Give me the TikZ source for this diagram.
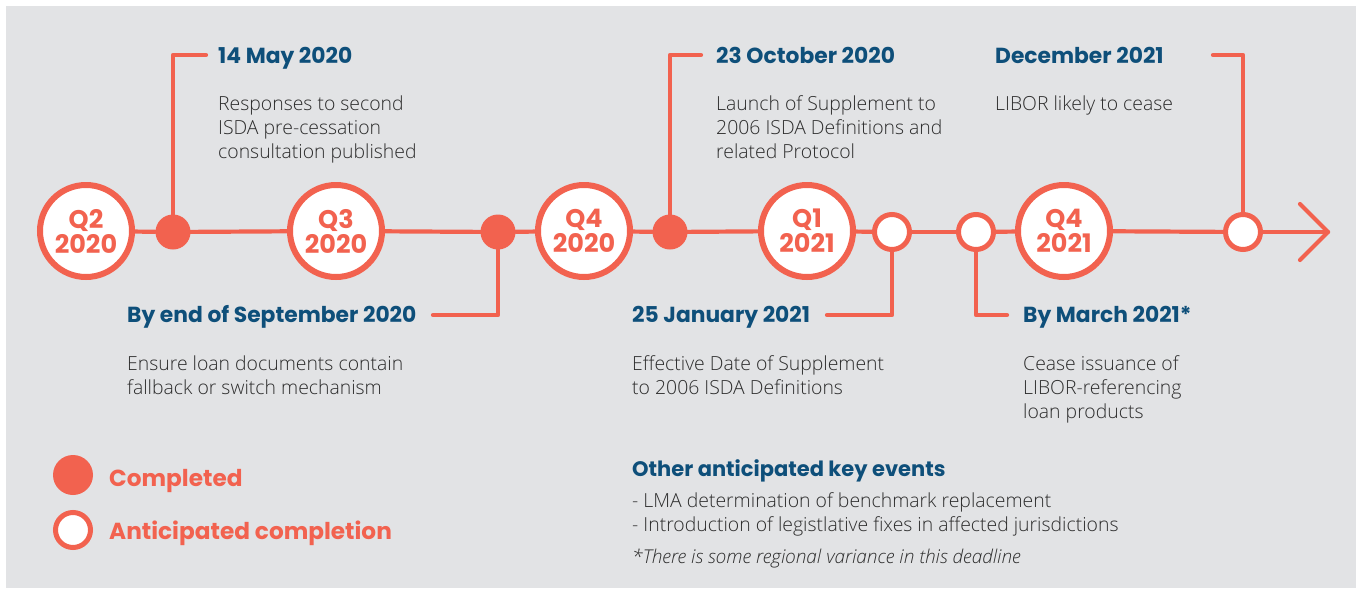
\documentclass[tikz,border=0pt]{standalone}
\usepackage{fontspec}
\setmainfont{Open Sans Light}[ItalicFont=Open Sans Light Italic]
\newfontfamily\hf{Poppins}
\definecolor{coral}{RGB}{242,98,79}
\definecolor{navy}{RGB}{14,79,122}
\definecolor{ink}{RGB}{45,45,45}
\definecolor{panel}{RGB}{226,227,229}
\begin{document}
\begin{tikzpicture}[x=1pt,y=-1pt,
  quarter/.style={circle,draw=coral,line width=6pt,fill=white,minimum size=92pt,inner sep=0pt,
    font=\hf\bfseries\fontsize{25.5}{25}\selectfont,text=coral,align=center},
  done/.style={circle,fill=coral,minimum size=35pt,inner sep=0pt},
  todo/.style={circle,draw=coral,line width=5pt,fill=white,minimum size=35pt,inner sep=0pt},
  track/.style={draw=coral,line width=4.2pt,line cap=round,line join=round},
  head/.style={anchor=base west,inner sep=0pt,text=navy,font=\hf\bfseries\fontsize{21.8}{24}\selectfont},
  body/.style={anchor=base west,inner sep=0pt,text=ink,align=left,font=\fontsize{19.4}{24}\selectfont},
  legend/.style={anchor=base west,inner sep=0pt,text=coral,font=\hf\bfseries\fontsize{23.2}{26}\selectfont}]
\useasboundingbox (0,0) rectangle (1361,590);
\fill[panel] (6,6) rectangle (1356,588);

% quarter markers
\node[quarter] (q2a) at (86,231) {Q2\\2020};
\node[quarter] (q3a) at (336,231) {Q3\\2020};
\node[quarter] (q4a) at (584,231) {Q4\\2020};
\node[quarter] (q1b) at (807,231) {Q1\\2021};
\node[quarter] (q4b) at (1064,231) {Q4\\2021};

% event dots
\node[done] (may) at (173,232) {};
\node[done] (sep) at (498,232) {};
\node[done] (oct) at (670,232) {};
\node[todo] (jan) at (892,232) {};
\node[todo] (mar) at (976,232) {};
\node[todo] (dec) at (1243,232) {};
\coordinate (tip) at (1328,232);

% timeline
\draw[track] (q2a) -- (may);
\draw[track] (may) -- (q3a);
\draw[track] (q3a) -- (sep);
\draw[track] (sep) -- (q4a);
\draw[track] (q4a) -- (oct);
\draw[track] (oct) -- (q1b);
\draw[track] (q1b) -- (jan);
\draw[track] (jan) -- (mar);
\draw[track] (mar) -- (q4b);
\draw[track] (q4b) -- (dec);
\draw[track] (dec) -- (tip);
\draw[track] (tip) ++(-28,-28) -- (tip) -- ++(-28,28);

% leader lines
\coordinate (mayend) at (206,55);
\coordinate (sepend) at (433,315);
\coordinate (octend) at (701,55);
\coordinate (janend) at (827,315);
\coordinate (marend) at (1007,315);
\coordinate (decend) at (1213,55);
\draw[track] (may) |- (mayend);
\draw[track] (sep) |- (sepend);
\draw[track] (oct) |- (octend);
\draw[track] (jan) |- (janend);
\draw[track] (mar) |- (marend);
\draw[track] (dec) |- (decend);

% event texts (multi-line nodes sit on the baseline of their last line)
\node[head] (mayh) at (218,63) {14 May 2020};
\node[body] (mayb) at (218,158) {Responses to second\\ISDA pre-cessation\\consultation published};
\node[head] (seph) at (127,322) {By end of September 2020};
\node[body] (sepb) at (127,394) {Ensure loan documents contain\\fallback or switch mechanism};
\node[head] (octh) at (716,63) {23 October 2020};
\node[body] (octb) at (716,158) {Launch of Supplement to\\2006 ISDA Definitions and\\related Protocol};
\node[head] (janh) at (632,322) {25 January 2021};
\node[body] (janb) at (632,394) {Effective Date of Supplement\\to 2006 ISDA Definitions};
\node[head] (mark) at (1023,322) {By March 2021*};
\node[body] (marb) at (1023,418) {Cease issuance of\\LIBOR-referencing\\loan products};
\node[head] (dech) at (995,63) {December 2021};
\node[body] (decb) at (995,110) {LIBOR likely to cease};

% legend
\node[done,minimum size=40pt] (lg1) at (73,475) {};
\node[todo] (lg2) at (73,530) {};
\node[legend] (lt1) at (109,486) {Completed};
\node[legend] (lt2) at (109,539) {Anticipated completion};

% other events
\node[head,font=\hf\bfseries\fontsize{21}{24}\selectfont] (oth) at (632,476) {Other anticipated key events};
\node[body] (othb) at (632,531) {- LMA determination of benchmark replacement\\- Introduction of legistlative fixes in affected jurisdictions};
\node[body,font=\itshape\fontsize{19}{24}\selectfont] (note) at (632,563) {*There is some regional variance in this deadline};
\end{tikzpicture}
\end{document}
